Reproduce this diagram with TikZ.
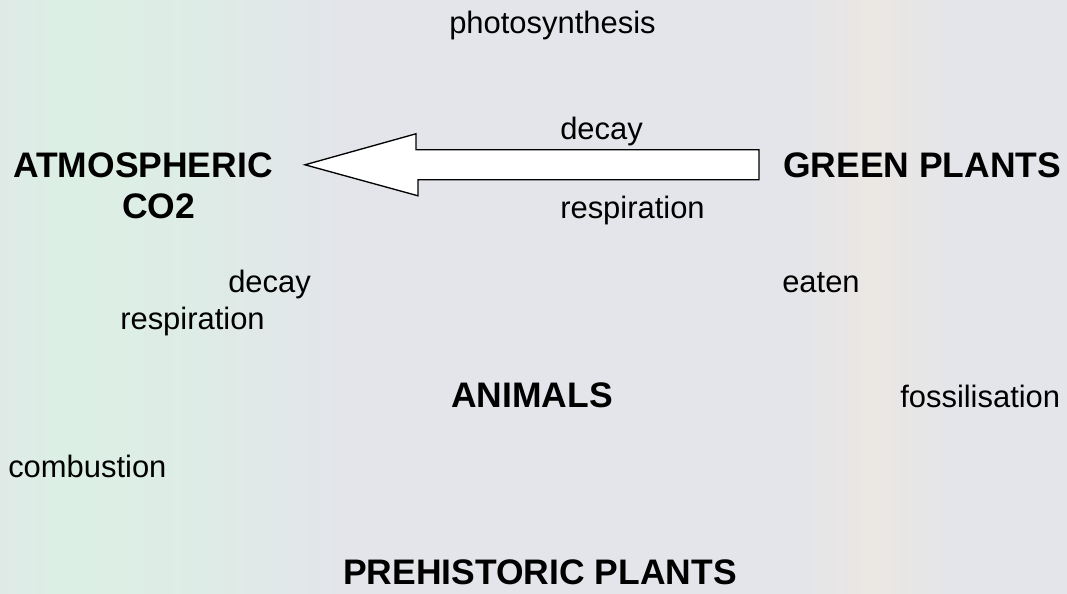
\documentclass[tikz,border=0pt]{standalone}
\usepackage{fontspec}
\setmainfont{Liberation Sans}
\usepackage{tikz}
\usetikzlibrary{calc}
\usepackage{xcolor}
\definecolor{cbmint}{HTML}{DCEFE5}
\definecolor{cbgray}{HTML}{E3E5EA}
\definecolor{cbwarm}{HTML}{EBE7E3}
\pgfdeclarehorizontalshading{cbbg}{100bp}{color(0bp)=(cbmint!50!cbgray); color(25bp)=(cbmint!50!cbgray); color(28bp)=(cbmint); color(33bp)=(cbmint!80!cbgray); color(41bp)=(cbgray); color(62bp)=(cbgray); color(66bp)=(cbwarm); color(70bp)=(cbgray); color(75bp)=(cbgray); color(100bp)=(cbgray)}
\tikzset{
  cbtitle/.style={inner sep=0pt, anchor=base west, font=\fontsize{26.6}{30}\selectfont\bfseries},
  cbword/.style={inner sep=0pt, anchor=base west, font=\fontsize{23.2}{27}\selectfont},
  cbarrow/.style={draw=black, fill=white, line width=1pt, line join=miter},
}

\begin{document}
\begin{tikzpicture}[x=0.75pt, y=-0.75pt]
  \useasboundingbox (0,0) rectangle (1067,593);
  \fill[shading=cbbg] (0,0) rectangle (1067,593);

  \node[cbword] (photo) at (449,33) {photosynthesis};
  \node[cbword] (decaytop) at (560,139) {decay};
  \node[cbword] (resptop) at (560,218) {respiration};
  \node[cbtitle] (atmos) at (13,177) {ATMOSPHERIC};
  \node[cbtitle] (co2) at (122,218) {CO2};
  \node[cbtitle] (green) at (783,177) {GREEN PLANTS};
  \node[cbword] (decayleft) at (228,292) {decay};
  \node[cbword] (respleft) at (120,329) {respiration};
  \node[cbword] (eaten) at (782,292) {eaten};
  \node[cbtitle] (animals) at (451,407) {ANIMALS};
  \node[cbword] (fossil) at (900,407) {fossilisation};
  \node[cbword] (combust) at (8,477) {combustion};
  \node[cbtitle] (prehist) at (343,584) {PREHISTORIC PLANTS};

  \coordinate (tip) at ([xshift=24pt]atmos.east);
  \coordinate (tail) at ([xshift=-18pt]green.west);
  \draw[cbarrow] (tip) -- ++(111,-31) -- ++(0,16) -- ($(tail)+(0,-15)$)
    -- ($(tail)+(0,15)$) -- ++(-341,0) -- ++(0,16) -- cycle;
\end{tikzpicture}
\end{document}
